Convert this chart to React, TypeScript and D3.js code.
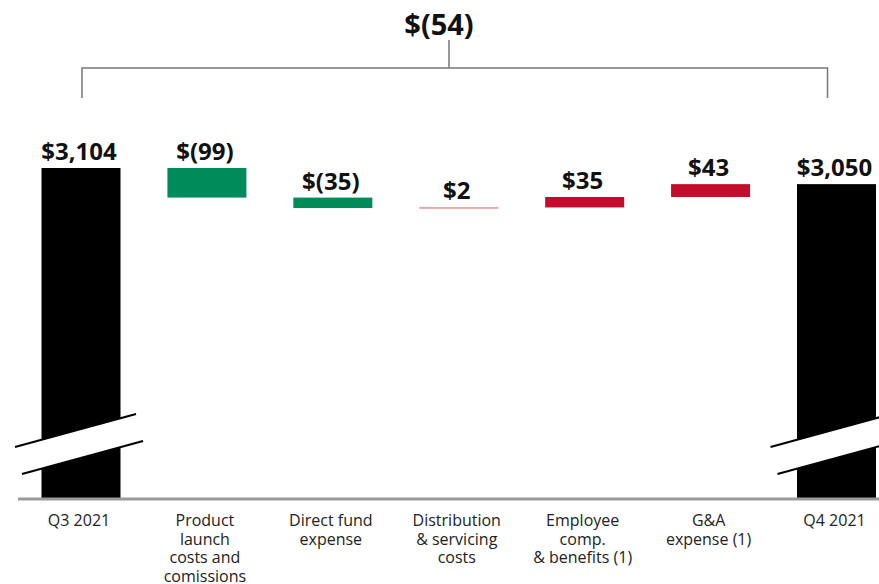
import React, { useEffect, useRef } from "react";
import * as d3 from "d3";

const categories = ["Q3 2021", "Product launch", "Direct fund", "Distribution", "Employee", "G&A", "Q4 2021"];
const tickLines = [
  ["Q3 2021"],
  ["Product", "launch", "costs and", "comissions"],
  ["Direct fund", "expense"],
  ["Distribution", "& servicing", "costs"],
  ["Employee", "comp.", "& benefits (1)"],
  ["G&A", "expense (1)"],
  ["Q4 2021"],
];
const values = [3104, -99, -35, 2, 35, 43, 3050];
const valueLabels = ["$3,104", "$(99)", "$(35)", "$2", "$35", "$43", "$3,050"];
const kinds = ["total", "delta", "delta", "delta", "delta", "delta", "total"];
const totalChangeLabel = "$(54)";

const W = 879, H = 584;

export default function App() {
  const ref = useRef<SVGSVGElement>(null);

  useEffect(() => {
    document.body.style.margin = "0";
    const svg = d3.select(ref.current);
    svg.selectAll("*").remove();

    const base = 498;
    const x = d3.scalePoint().domain(categories).range([81, 836.5]);
    const y = d3.scaleLinear().domain([2000, 3104]).range([base, 168]);
    const bw = 79;

    // running totals for the waterfall
    let run = 0;
    const bars = categories.map((c, i) => {
      const v = values[i];
      let y0, y1;
      if (kinds[i] === "total") {
        run = v;
        y0 = y(v);
        y1 = base;
      } else {
        const start = run;
        run = run + v;
        y0 = y(Math.max(start, run));
        y1 = y(Math.min(start, run));
      }
      return { c, v, y0, y1, kind: kinds[i], label: valueLabels[i] };
    });

    const color = (d) => (d.kind === "total" ? "#000" : d.v < 0 ? "#008b5b" : "#c20e2c");

    svg.selectAll("rect.bar")
      .data(bars)
      .join("rect")
      .attr("class", "bar")
      .attr("x", d => x(d.c) - bw / 2)
      .attr("width", bw)
      .attr("y", d => d.y0)
      .attr("height", d => Math.max(1, d.y1 - d.y0))
      .attr("fill", color)
      .attr("opacity", d => (Math.abs(d.v) < 5 ? 0.7 : 1));

    // axis break marks on the totals
    const totals = bars.filter(d => d.kind === "total");
    totals.forEach(d => {
      const cx = x(d.c);
      const g = svg.append("g");
      const l1 = [[cx - 66, 447], [cx + 55, 414]];
      const l2 = [[cx - 59, 474], [cx + 62, 441]];
      g.append("polygon")
        .attr("points", [l1[0], l1[1], l2[1], l2[0]].map(p => p.join(",")).join(" "))
        .attr("fill", "#fff");
      [l1, l2].forEach(l => {
        g.append("line")
          .attr("x1", l[0][0]).attr("y1", l[0][1])
          .attr("x2", l[1][0]).attr("y2", l[1][1])
          .attr("stroke", "#000")
          .attr("stroke-width", 2);
      });
    });

    // baseline
    svg.append("line")
      .attr("x1", 18).attr("x2", W)
      .attr("y1", base + 1).attr("y2", base + 1)
      .attr("stroke", "#9a9a9a")
      .attr("stroke-width", 3);

    // value labels
    svg.selectAll("text.val")
      .data(bars)
      .join("text")
      .attr("class", "val")
      .attr("x", d => x(d.c) - 2)
      .attr("y", d => d.y0 - 8)
      .attr("text-anchor", "middle")
      .style("font-family", "'Open Sans', sans-serif")
      .style("font-weight", 700)
      .style("font-size", "24px")
      .attr("fill", "#111")
      .text(d => d.label);

    // category labels
    const cat = svg.selectAll("text.cat")
      .data(bars)
      .join("text")
      .attr("class", "cat")
      .attr("text-anchor", "middle")
      .style("font-family", "'Open Sans', sans-serif")
      .style("font-size", "16px")
      .attr("fill", "#222");
    cat.each(function (d, i) {
      d3.select(this).selectAll("tspan")
        .data(tickLines[i])
        .join("tspan")
        .attr("x", x(d.c) - 2)
        .attr("y", (_, j) => 526 + j * 18.7)
        .text(t => t);
    });

    // bracket for total change
    const bx0 = x(categories[0]) + 1;
    const bx1 = x(categories[categories.length - 1]) - 9;
    const by = 68;
    svg.append("path")
      .attr("d", `M${bx0},98V${by}H${bx1}V98 M449,${by}V40`)
      .attr("fill", "none")
      .attr("stroke", "#777")
      .attr("stroke-width", 1.5);
    svg.append("text")
      .attr("x", 439)
      .attr("y", 35)
      .attr("text-anchor", "middle")
      .style("font-family", "'Open Sans', sans-serif")
      .style("font-weight", 700)
      .style("font-size", "29px")
      .attr("fill", "#111")
      .text(totalChangeLabel);
  }, []);

  return <svg ref={ref} width={W} height={H} style={{ display: "block" }} />;
}
